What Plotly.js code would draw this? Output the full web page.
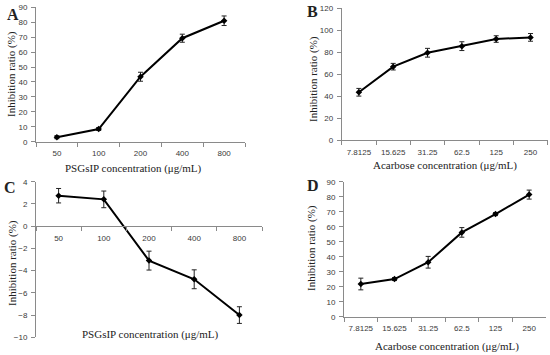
<!DOCTYPE html>
<html><head><meta charset="utf-8">
<script src="https://cdn.plot.ly/plotly-3.0.1.min.js"></script>
<style>html,body{margin:0;padding:0;background:#fff}#c{width:550px;height:355px}</style>
</head><body><div id="c"></div>
<script>
// Categories
const psgsipConc = ['50', '100', '200', '400', '800'];
const acarboseConc = ['7.8125', '15.625', '31.25', '62.5', '125', '250'];
// Panel A: PSGsIP inhibition (%)
const aVals = [3.0, 8.5, 43.5, 69.3, 81.0];
const aErr = [1.0, 1.0, 3.0, 2.7, 3.2];
// Panel B: Acarbose inhibition (%)
const bVals = [43.5, 66.8, 79.5, 85.5, 92.0, 93.5];
const bErr = [3.5, 3.0, 4.0, 4.0, 3.0, 3.5];
// Panel C: PSGsIP inhibition (%)
const cVals = [2.74, 2.41, -3.1, -4.78, -8.0];
const cErr = [0.65, 0.75, 0.85, 0.85, 0.75];
// Panel D: Acarbose inhibition (%)
const dVals = [21.8, 25.1, 36.3, 56.2, 68.4, 81.4];
const dErr = [3.9, 1.0, 3.9, 3.2, 1.0, 3.0];

const W = 550, H = 355;
const px = v => v / W, py = v => 1 - v / H;

function trace(x, y, e, xa, ya) {
  return {
    type: 'scatter', mode: 'lines+markers', x: x, y: y,
    xaxis: xa, yaxis: ya,
    line: {color: '#000', width: 2},
    marker: {color: '#000', size: 5, symbol: 'diamond'},
    error_y: {type: 'data', array: e, visible: true, color: '#222', thickness: 1, width: 2.5},
    cliponaxis: false, showlegend: false
  };
}

const tickFont = {family: 'Liberation Sans, Arial, sans-serif', size: 8, color: '#3a3a3a'};
const axisCol = '#8a8a8a';

function xAx(domain, n, extra) {
  return Object.assign({
    domain: domain, type: 'category', range: [-0.5, n - 0.5],
    showline: true, linecolor: axisCol, linewidth: 1,
    ticks: 'outside', tickson: 'boundaries', ticklen: 4, tickcolor: axisCol,
    tickangle: 0, ticklabelstandoff: 4,
    showgrid: false, zeroline: false, tickfont: tickFont, fixedrange: true
  }, extra || {});
}
function yAx(domain, range, dtick, anchor) {
  return {
    domain: domain, range: range, dtick: dtick, tick0: 0, anchor: anchor,
    showline: true, linecolor: axisCol, linewidth: 1,
    ticks: 'outside', ticklen: 4, tickcolor: axisCol, ticklabelstandoff: 2,
    showgrid: false, zeroline: false, tickfont: tickFont, fixedrange: true
  };
}

const data = [
  trace(psgsipConc, aVals, aErr, 'x', 'y'),
  trace(acarboseConc, bVals, bErr, 'x2', 'y2'),
  trace(psgsipConc, cVals, cErr, 'x3', 'y3'),
  trace(acarboseConc, dVals, dErr, 'x4', 'y4')
];

const serif = 'Liberation Serif, Times New Roman, serif';
function ann(text, x, y, size, extra) {
  return Object.assign({text: text, x: px(x), y: py(y), xref: 'paper', yref: 'paper',
    showarrow: false, font: {family: serif, size: size, color: '#222'},
    xanchor: 'center', yanchor: 'middle'}, extra || {});
}

const layout = {
  width: W, height: H,
  margin: {l: 0, r: 0, t: 0, b: 0},
  paper_bgcolor: '#fff', plot_bgcolor: 'rgba(0,0,0,0)',
  xaxis: xAx([px(36), px(245)], 5, {anchor: 'y'}),
  yaxis: yAx([py(141.7), py(7.3)], [0, 90], 10, 'x'),
  xaxis2: xAx([px(341.7), px(547.7)], 6, {anchor: 'y2'}),
  yaxis2: yAx([py(140), py(8.3)], [0, 120], 20, 'x2'),
  xaxis3: xAx([px(36), px(262)], 5, {anchor: 'free', position: py(226.1)}),
  yaxis3: yAx([py(337.3), py(181.7)], [-10, 4], 2, 'x3'),
  xaxis4: xAx([px(344), px(546)], 6, {anchor: 'y4'}),
  yaxis4: yAx([py(316.7), py(181.7)], [0, 90], 10, 'x4'),
  annotations: [
    ann('<b>A</b>', 13, 15, 16),
    ann('<b>B</b>', 312, 12, 16),
    ann('<b>C</b>', 10, 187, 16),
    ann('<b>D</b>', 313, 185, 16),
    ann('Inhibition ratio (%)', 12, 74, 11, {textangle: -90}),
    ann('Inhibition ratio (%)', 313, 79, 11, {textangle: -90}),
    ann('Inhibition ratio (%)', 12, 263, 11, {textangle: -90}),
    ann('Inhibition ratio (%)', 312, 248, 11, {textangle: -90}),
    ann('PSGsIP concentration (μg/mL)', 133, 168, 11),
    ann('Acarbose concentration (μg/mL)', 445, 165, 11),
    ann('PSGsIP concentration (μg/mL)', 150, 334, 11),
    ann('Acarbose concentration (μg/mL)', 447, 346.5, 11)
  ]
};

Plotly.newPlot('c', data, layout, {displayModeBar: false, staticPlot: true});
</script></body></html>
